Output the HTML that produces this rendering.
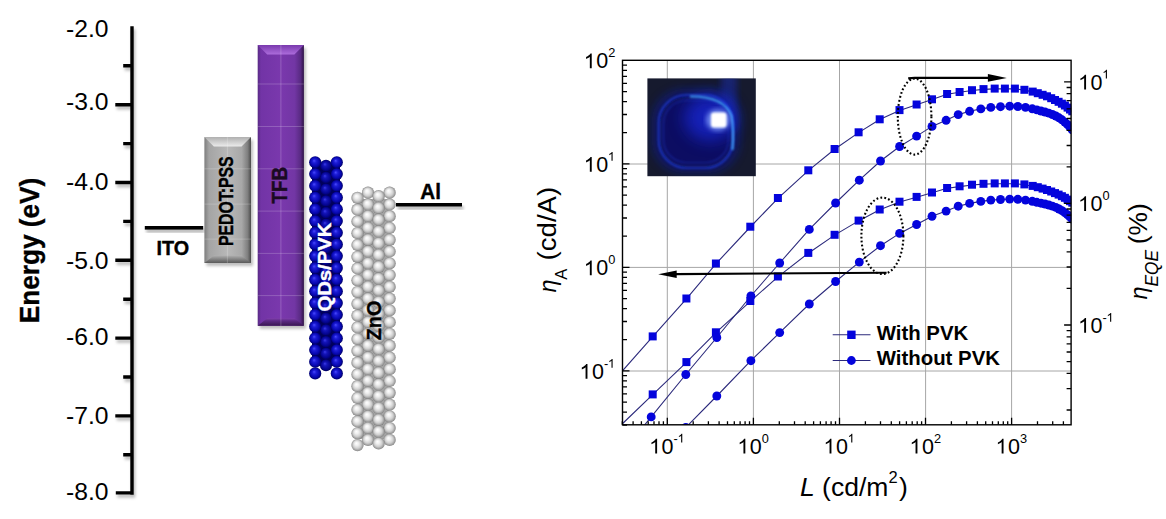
<!DOCTYPE html>
<html><head><meta charset="utf-8"><style>
html,body{margin:0;padding:0;background:#fff;width:1166px;height:519px;overflow:hidden}
</style></head><body>
<svg width="1166" height="519" viewBox="0 0 1166 519" style="display:block">
<defs>
<clipPath id="plot"><rect x="622.5" y="60.3" width="448.6" height="364.5"/></clipPath>
<radialGradient id="zno" cx="50%" cy="50%" r="52%" fx="40%" fy="34%">
  <stop offset="0" stop-color="#ffffff"/><stop offset="0.3" stop-color="#efefef"/><stop offset="0.62" stop-color="#cfcfcf"/><stop offset="0.88" stop-color="#9c9c9c"/><stop offset="1" stop-color="#747474"/>
</radialGradient>
<radialGradient id="qd" cx="50%" cy="50%" r="52%" fx="40%" fy="36%">
  <stop offset="0" stop-color="#4a4aff"/><stop offset="0.3" stop-color="#1c1cd6"/><stop offset="0.72" stop-color="#0606ae"/><stop offset="1" stop-color="#00005c"/>
</radialGradient>
<radialGradient id="qdm" cx="50%" cy="50%" r="52%" fx="40%" fy="36%">
  <stop offset="0" stop-color="#3a3ae8"/><stop offset="0.3" stop-color="#1414b8"/><stop offset="0.72" stop-color="#040490"/><stop offset="1" stop-color="#000050"/>
</radialGradient>
<linearGradient id="pedotH" x1="0" x2="1" y1="0" y2="0">
  <stop offset="0" stop-color="#7e7e7e"/><stop offset="0.1" stop-color="#a4a4a4"/><stop offset="0.5" stop-color="#b8b8b8"/><stop offset="0.8" stop-color="#a8a8a8"/><stop offset="0.93" stop-color="#7e7e7e"/><stop offset="1" stop-color="#4a4a4a"/>
</linearGradient>
<linearGradient id="tfbH" x1="0" x2="1" y1="0" y2="0">
  <stop offset="0" stop-color="#582a84"/><stop offset="0.07" stop-color="#7234a6"/><stop offset="0.5" stop-color="#7a38ad"/><stop offset="0.8" stop-color="#7236a4"/><stop offset="0.93" stop-color="#582a82"/><stop offset="1" stop-color="#2e1246"/>
</linearGradient>
<linearGradient id="tfbTop" x1="0" x2="0" y1="0" y2="1">
  <stop offset="0" stop-color="#7a3aae"/><stop offset="1" stop-color="#ad6ddc"/>
</linearGradient>
<linearGradient id="pedTop" x1="0" x2="0" y1="0" y2="1">
  <stop offset="0" stop-color="#b0b0b0"/><stop offset="1" stop-color="#ececec"/>
</linearGradient>
<linearGradient id="tfbBot" x1="0" x2="0" y1="0" y2="1">
  <stop offset="0" stop-color="#7e3eaa"/><stop offset="0.35" stop-color="#5c2a84"/><stop offset="1" stop-color="#381650"/>
</linearGradient>
<linearGradient id="pedBot" x1="0" x2="0" y1="0" y2="1">
  <stop offset="0" stop-color="#b0b0b0"/><stop offset="0.4" stop-color="#8c8c8c"/><stop offset="1" stop-color="#5a5a5a"/>
</linearGradient>
<radialGradient id="glow" cx="50%" cy="50%" r="50%">
  <stop offset="0" stop-color="#ffffff"/><stop offset="0.25" stop-color="#c8d8ff"/><stop offset="0.5" stop-color="#3050ff" stop-opacity="0.8"/><stop offset="1" stop-color="#0010a0" stop-opacity="0"/>
</radialGradient>
<radialGradient id="bigglow" cx="55%" cy="45%" r="55%">
  <stop offset="0" stop-color="#1a30e0"/><stop offset="0.6" stop-color="#0c18a8"/><stop offset="1" stop-color="#0c1040" stop-opacity="0"/>
</radialGradient>
<filter id="blur1"><feGaussianBlur stdDeviation="1.2"/></filter>
<filter id="blur2"><feGaussianBlur stdDeviation="2.5"/></filter>
<filter id="shadow" x="-20%" y="-20%" width="140%" height="140%"><feGaussianBlur stdDeviation="1.5"/></filter>
</defs>
<rect width="1166" height="519" fill="#ffffff"/>
<filter id="axsh" x="-50%" y="-10%" width="200%" height="120%"><feGaussianBlur stdDeviation="1.6"/></filter>
<g fill="none" stroke="#000" stroke-width="3.4">
<path d="M132,26.2 V494.7 M133.7,492.9 H115.8 M132,104.7 H115.3 M132,182.5 H115.3 M132,260.3 H115.3 M132,338.1 H115.3 M132,415.9 H115.3 M132,65.8 H123.2 M132,143.6 H123.2 M132,221.4 H123.2 M132,299.2 H123.2 M132,377.0 H123.2 M132,454.7 H123.2" stroke="#000" stroke-opacity="0.28" transform="translate(1.5,3)" filter="url(#axsh)"/>
<path d="M132,26.2 V494.7 M133.7,492.9 H115.8 M132,104.7 H115.3 M132,182.5 H115.3 M132,260.3 H115.3 M132,338.1 H115.3 M132,415.9 H115.3 M132,65.8 H123.2 M132,143.6 H123.2 M132,221.4 H123.2 M132,299.2 H123.2 M132,377.0 H123.2 M132,454.7 H123.2"/>
</g>
<text x="108.6" y="36.8" font-family="Liberation Sans, sans-serif" font-size="24.2" text-anchor="end" textLength="42.5" lengthAdjust="spacingAndGlyphs">-2.0</text>
<text x="108.6" y="110.3" font-family="Liberation Sans, sans-serif" font-size="24.2" text-anchor="end" textLength="42.5" lengthAdjust="spacingAndGlyphs">-3.0</text>
<text x="108.6" y="190.3" font-family="Liberation Sans, sans-serif" font-size="24.2" text-anchor="end" textLength="42.5" lengthAdjust="spacingAndGlyphs">-4.0</text>
<text x="108.6" y="269.1" font-family="Liberation Sans, sans-serif" font-size="24.2" text-anchor="end" textLength="42.5" lengthAdjust="spacingAndGlyphs">-5.0</text>
<text x="108.6" y="345.2" font-family="Liberation Sans, sans-serif" font-size="24.2" text-anchor="end" textLength="42.5" lengthAdjust="spacingAndGlyphs">-6.0</text>
<text x="108.6" y="424.0" font-family="Liberation Sans, sans-serif" font-size="24.2" text-anchor="end" textLength="42.5" lengthAdjust="spacingAndGlyphs">-7.0</text>
<text x="108.6" y="499.8" font-family="Liberation Sans, sans-serif" font-size="24.2" text-anchor="end" textLength="42.5" lengthAdjust="spacingAndGlyphs">-8.0</text>
<text transform="translate(38.6,323.3) rotate(-90)" font-family="Liberation Sans, sans-serif" font-weight="bold" font-size="26.8" stroke="#000" stroke-width="0.35" textLength="145.5" lengthAdjust="spacingAndGlyphs">Energy (eV)</text>
<rect x="146.3" y="229" width="58.4" height="3.6" fill="#000" opacity="0.3" filter="url(#axsh)"/>
<rect x="144.8" y="226" width="58.4" height="3.6" fill="#000"/>
<text x="156.6" y="255.4" font-family="Liberation Sans, sans-serif" font-weight="bold" font-size="20" stroke="#000" stroke-width="0.4" textLength="32.6" lengthAdjust="spacingAndGlyphs">ITO</text>
<rect x="397.5" y="206" width="66" height="3.5" fill="#000" opacity="0.3" filter="url(#axsh)"/>
<rect x="396" y="203" width="66" height="3.5" fill="#000"/>
<text x="420.3" y="198.5" font-family="Liberation Sans, sans-serif" font-weight="bold" font-size="21.5" stroke="#000" stroke-width="0.4" textLength="20.6" lengthAdjust="spacingAndGlyphs">Al</text>
<rect x="206.4" y="140.1" width="46.599999999999994" height="125.9" fill="#000" opacity="0.25" filter="url(#shadow)"/>
<rect x="204.4" y="137.1" width="46.599999999999994" height="125.9" fill="url(#pedotH)"/>
<path d="M204.4,137.1 H251.0 L241.5,146.6 H213.9 Z" fill="url(#pedTop)"/>
<path d="M204.4,263.0 H251.0 L241.5,255.4 H213.9 Z" fill="url(#pedBot)"/>
<rect x="259.7" y="48.1" width="46.19999999999999" height="280.7" fill="#000" opacity="0.25" filter="url(#shadow)"/>
<rect x="257.7" y="45.1" width="46.19999999999999" height="280.7" fill="url(#tfbH)"/>
<path d="M257.7,45.1 H303.9 L294.4,54.6 H267.2 Z" fill="url(#tfbTop)"/>
<path d="M257.7,325.8 H303.9 L294.4,318.2 H267.2 Z" fill="url(#tfbBot)"/>
<g stroke="#ffffff" stroke-opacity="0.2" stroke-width="1">
<path d="M227.4,137 V263 M280.9,45 V326"/>
<path d="M257.7,84.0 H303.9"/>
<path d="M257.7,126.5 H303.9"/>
<path d="M257.7,168.8 H303.9"/>
<path d="M257.7,211.1 H303.9"/>
<path d="M257.7,253.4 H303.9"/>
<path d="M257.7,295.6 H303.9"/>
<path d="M204.4,168.8 H251"/>
<path d="M204.4,204.1 H251"/>
<path d="M204.4,239.1 H251"/>
</g>
<text transform="translate(232.7,246.0) rotate(-90)" font-family="Liberation Sans, sans-serif" font-weight="bold" font-size="19.3" stroke="#000" stroke-width="0.4" textLength="89.6" lengthAdjust="spacingAndGlyphs">PEDOT:PSS</text>
<text transform="translate(286.8,203.4) rotate(-90)" font-family="Liberation Sans, sans-serif" font-weight="bold" font-size="21.6" fill="#1a0a22" stroke="#1a0a22" stroke-width="0.4" textLength="36.6" lengthAdjust="spacingAndGlyphs">TFB</text>
<g>
<rect x="312" y="163" width="28" height="203" fill="#00005c"/>
<circle cx="326.0" cy="165.8" r="6.1" fill="url(#qdm)"/>
<circle cx="326.0" cy="177.5" r="6.1" fill="url(#qdm)"/>
<circle cx="326.0" cy="189.3" r="6.1" fill="url(#qdm)"/>
<circle cx="326.0" cy="201.0" r="6.1" fill="url(#qdm)"/>
<circle cx="326.0" cy="212.7" r="6.1" fill="url(#qdm)"/>
<circle cx="326.0" cy="224.5" r="6.1" fill="url(#qdm)"/>
<circle cx="326.0" cy="236.2" r="6.1" fill="url(#qdm)"/>
<circle cx="326.0" cy="247.9" r="6.1" fill="url(#qdm)"/>
<circle cx="326.0" cy="259.6" r="6.1" fill="url(#qdm)"/>
<circle cx="326.0" cy="271.4" r="6.1" fill="url(#qdm)"/>
<circle cx="326.0" cy="283.1" r="6.1" fill="url(#qdm)"/>
<circle cx="326.0" cy="294.8" r="6.1" fill="url(#qdm)"/>
<circle cx="326.0" cy="306.6" r="6.1" fill="url(#qdm)"/>
<circle cx="326.0" cy="318.3" r="6.1" fill="url(#qdm)"/>
<circle cx="326.0" cy="330.0" r="6.1" fill="url(#qdm)"/>
<circle cx="326.0" cy="341.8" r="6.1" fill="url(#qdm)"/>
<circle cx="326.0" cy="353.5" r="6.1" fill="url(#qdm)"/>
<circle cx="326.0" cy="365.2" r="6.1" fill="url(#qdm)"/>
<circle cx="315.2" cy="162.3" r="6.1" fill="url(#qd)"/>
<circle cx="336.8" cy="162.3" r="6.1" fill="url(#qd)"/>
<circle cx="315.2" cy="174.0" r="6.1" fill="url(#qd)"/>
<circle cx="336.8" cy="174.0" r="6.1" fill="url(#qd)"/>
<circle cx="315.2" cy="185.8" r="6.1" fill="url(#qd)"/>
<circle cx="336.8" cy="185.8" r="6.1" fill="url(#qd)"/>
<circle cx="315.2" cy="197.5" r="6.1" fill="url(#qd)"/>
<circle cx="336.8" cy="197.5" r="6.1" fill="url(#qd)"/>
<circle cx="315.2" cy="209.2" r="6.1" fill="url(#qd)"/>
<circle cx="336.8" cy="209.2" r="6.1" fill="url(#qd)"/>
<circle cx="315.2" cy="221.0" r="6.1" fill="url(#qd)"/>
<circle cx="336.8" cy="221.0" r="6.1" fill="url(#qd)"/>
<circle cx="315.2" cy="232.7" r="6.1" fill="url(#qd)"/>
<circle cx="336.8" cy="232.7" r="6.1" fill="url(#qd)"/>
<circle cx="315.2" cy="244.4" r="6.1" fill="url(#qd)"/>
<circle cx="336.8" cy="244.4" r="6.1" fill="url(#qd)"/>
<circle cx="315.2" cy="256.1" r="6.1" fill="url(#qd)"/>
<circle cx="336.8" cy="256.1" r="6.1" fill="url(#qd)"/>
<circle cx="315.2" cy="267.9" r="6.1" fill="url(#qd)"/>
<circle cx="336.8" cy="267.9" r="6.1" fill="url(#qd)"/>
<circle cx="315.2" cy="279.6" r="6.1" fill="url(#qd)"/>
<circle cx="336.8" cy="279.6" r="6.1" fill="url(#qd)"/>
<circle cx="315.2" cy="291.3" r="6.1" fill="url(#qd)"/>
<circle cx="336.8" cy="291.3" r="6.1" fill="url(#qd)"/>
<circle cx="315.2" cy="303.1" r="6.1" fill="url(#qd)"/>
<circle cx="336.8" cy="303.1" r="6.1" fill="url(#qd)"/>
<circle cx="315.2" cy="314.8" r="6.1" fill="url(#qd)"/>
<circle cx="336.8" cy="314.8" r="6.1" fill="url(#qd)"/>
<circle cx="315.2" cy="326.5" r="6.1" fill="url(#qd)"/>
<circle cx="336.8" cy="326.5" r="6.1" fill="url(#qd)"/>
<circle cx="315.2" cy="338.2" r="6.1" fill="url(#qd)"/>
<circle cx="336.8" cy="338.2" r="6.1" fill="url(#qd)"/>
<circle cx="315.2" cy="350.0" r="6.1" fill="url(#qd)"/>
<circle cx="336.8" cy="350.0" r="6.1" fill="url(#qd)"/>
<circle cx="315.2" cy="361.7" r="6.1" fill="url(#qd)"/>
<circle cx="336.8" cy="361.7" r="6.1" fill="url(#qd)"/>
<circle cx="315.2" cy="373.4" r="6.1" fill="url(#qd)"/>
<circle cx="336.8" cy="373.4" r="6.1" fill="url(#qd)"/>
</g>
<text transform="translate(331.4,311.6) rotate(-90)" font-family="Liberation Sans, sans-serif" font-weight="bold" font-size="19.2" fill="#fff" stroke="#fff" stroke-width="0.4" textLength="89" lengthAdjust="spacingAndGlyphs">QDs/PVK</text>
<g>
<rect x="358" y="199" width="31" height="240" fill="#a4a4a4"/>
<circle cx="368.0" cy="192.7" r="6.15" fill="url(#zno)"/>
<circle cx="368.0" cy="204.5" r="6.15" fill="url(#zno)"/>
<circle cx="368.0" cy="216.2" r="6.15" fill="url(#zno)"/>
<circle cx="368.0" cy="228.0" r="6.15" fill="url(#zno)"/>
<circle cx="368.0" cy="239.8" r="6.15" fill="url(#zno)"/>
<circle cx="368.0" cy="251.5" r="6.15" fill="url(#zno)"/>
<circle cx="368.0" cy="263.3" r="6.15" fill="url(#zno)"/>
<circle cx="368.0" cy="275.1" r="6.15" fill="url(#zno)"/>
<circle cx="368.0" cy="286.9" r="6.15" fill="url(#zno)"/>
<circle cx="368.0" cy="298.6" r="6.15" fill="url(#zno)"/>
<circle cx="368.0" cy="310.4" r="6.15" fill="url(#zno)"/>
<circle cx="368.0" cy="322.2" r="6.15" fill="url(#zno)"/>
<circle cx="368.0" cy="333.9" r="6.15" fill="url(#zno)"/>
<circle cx="368.0" cy="345.7" r="6.15" fill="url(#zno)"/>
<circle cx="368.0" cy="357.5" r="6.15" fill="url(#zno)"/>
<circle cx="368.0" cy="369.2" r="6.15" fill="url(#zno)"/>
<circle cx="368.0" cy="381.0" r="6.15" fill="url(#zno)"/>
<circle cx="368.0" cy="392.8" r="6.15" fill="url(#zno)"/>
<circle cx="368.0" cy="404.6" r="6.15" fill="url(#zno)"/>
<circle cx="368.0" cy="416.3" r="6.15" fill="url(#zno)"/>
<circle cx="368.0" cy="428.1" r="6.15" fill="url(#zno)"/>
<circle cx="368.0" cy="439.9" r="6.15" fill="url(#zno)"/>
<circle cx="389.6" cy="192.7" r="6.15" fill="url(#zno)"/>
<circle cx="389.6" cy="204.5" r="6.15" fill="url(#zno)"/>
<circle cx="389.6" cy="216.2" r="6.15" fill="url(#zno)"/>
<circle cx="389.6" cy="228.0" r="6.15" fill="url(#zno)"/>
<circle cx="389.6" cy="239.8" r="6.15" fill="url(#zno)"/>
<circle cx="389.6" cy="251.5" r="6.15" fill="url(#zno)"/>
<circle cx="389.6" cy="263.3" r="6.15" fill="url(#zno)"/>
<circle cx="389.6" cy="275.1" r="6.15" fill="url(#zno)"/>
<circle cx="389.6" cy="286.9" r="6.15" fill="url(#zno)"/>
<circle cx="389.6" cy="298.6" r="6.15" fill="url(#zno)"/>
<circle cx="389.6" cy="310.4" r="6.15" fill="url(#zno)"/>
<circle cx="389.6" cy="322.2" r="6.15" fill="url(#zno)"/>
<circle cx="389.6" cy="333.9" r="6.15" fill="url(#zno)"/>
<circle cx="389.6" cy="345.7" r="6.15" fill="url(#zno)"/>
<circle cx="389.6" cy="357.5" r="6.15" fill="url(#zno)"/>
<circle cx="389.6" cy="369.2" r="6.15" fill="url(#zno)"/>
<circle cx="389.6" cy="381.0" r="6.15" fill="url(#zno)"/>
<circle cx="389.6" cy="392.8" r="6.15" fill="url(#zno)"/>
<circle cx="389.6" cy="404.6" r="6.15" fill="url(#zno)"/>
<circle cx="389.6" cy="416.3" r="6.15" fill="url(#zno)"/>
<circle cx="389.6" cy="428.1" r="6.15" fill="url(#zno)"/>
<circle cx="389.6" cy="439.9" r="6.15" fill="url(#zno)"/>
<circle cx="357.5" cy="197.9" r="6.15" fill="url(#zno)"/>
<circle cx="357.5" cy="209.7" r="6.15" fill="url(#zno)"/>
<circle cx="357.5" cy="221.4" r="6.15" fill="url(#zno)"/>
<circle cx="357.5" cy="233.2" r="6.15" fill="url(#zno)"/>
<circle cx="357.5" cy="245.0" r="6.15" fill="url(#zno)"/>
<circle cx="357.5" cy="256.8" r="6.15" fill="url(#zno)"/>
<circle cx="357.5" cy="268.5" r="6.15" fill="url(#zno)"/>
<circle cx="357.5" cy="280.3" r="6.15" fill="url(#zno)"/>
<circle cx="357.5" cy="292.1" r="6.15" fill="url(#zno)"/>
<circle cx="357.5" cy="303.8" r="6.15" fill="url(#zno)"/>
<circle cx="357.5" cy="315.6" r="6.15" fill="url(#zno)"/>
<circle cx="357.5" cy="327.4" r="6.15" fill="url(#zno)"/>
<circle cx="357.5" cy="339.1" r="6.15" fill="url(#zno)"/>
<circle cx="357.5" cy="350.9" r="6.15" fill="url(#zno)"/>
<circle cx="357.5" cy="362.7" r="6.15" fill="url(#zno)"/>
<circle cx="357.5" cy="374.4" r="6.15" fill="url(#zno)"/>
<circle cx="357.5" cy="386.2" r="6.15" fill="url(#zno)"/>
<circle cx="357.5" cy="398.0" r="6.15" fill="url(#zno)"/>
<circle cx="357.5" cy="409.8" r="6.15" fill="url(#zno)"/>
<circle cx="357.5" cy="421.5" r="6.15" fill="url(#zno)"/>
<circle cx="357.5" cy="433.3" r="6.15" fill="url(#zno)"/>
<circle cx="357.5" cy="445.1" r="6.15" fill="url(#zno)"/>
<circle cx="378.6" cy="196.2" r="6.15" fill="url(#zno)"/>
<circle cx="378.6" cy="208.0" r="6.15" fill="url(#zno)"/>
<circle cx="378.6" cy="219.7" r="6.15" fill="url(#zno)"/>
<circle cx="378.6" cy="231.5" r="6.15" fill="url(#zno)"/>
<circle cx="378.6" cy="243.3" r="6.15" fill="url(#zno)"/>
<circle cx="378.6" cy="255.0" r="6.15" fill="url(#zno)"/>
<circle cx="378.6" cy="266.8" r="6.15" fill="url(#zno)"/>
<circle cx="378.6" cy="278.6" r="6.15" fill="url(#zno)"/>
<circle cx="378.6" cy="290.4" r="6.15" fill="url(#zno)"/>
<circle cx="378.6" cy="302.1" r="6.15" fill="url(#zno)"/>
<circle cx="378.6" cy="313.9" r="6.15" fill="url(#zno)"/>
<circle cx="378.6" cy="325.7" r="6.15" fill="url(#zno)"/>
<circle cx="378.6" cy="337.4" r="6.15" fill="url(#zno)"/>
<circle cx="378.6" cy="349.2" r="6.15" fill="url(#zno)"/>
<circle cx="378.6" cy="361.0" r="6.15" fill="url(#zno)"/>
<circle cx="378.6" cy="372.8" r="6.15" fill="url(#zno)"/>
<circle cx="378.6" cy="384.5" r="6.15" fill="url(#zno)"/>
<circle cx="378.6" cy="396.3" r="6.15" fill="url(#zno)"/>
<circle cx="378.6" cy="408.1" r="6.15" fill="url(#zno)"/>
<circle cx="378.6" cy="419.8" r="6.15" fill="url(#zno)"/>
<circle cx="378.6" cy="431.6" r="6.15" fill="url(#zno)"/>
<circle cx="378.6" cy="443.4" r="6.15" fill="url(#zno)"/>
</g>
<text transform="translate(381.2,340.3) rotate(-90)" font-family="Liberation Sans, sans-serif" font-weight="bold" font-size="21" fill="#000" stroke="#000" stroke-width="0.4" textLength="39.6" lengthAdjust="spacingAndGlyphs">ZnO</text>
<g stroke="#a6a6a6" stroke-width="1" fill="none">
<path d="M667.3,60.3 V424.8"/>
<path d="M753.4,60.3 V424.8"/>
<path d="M839.5,60.3 V424.8"/>
<path d="M925.6,60.3 V424.8"/>
<path d="M1011.6,60.3 V424.8"/>
<path d="M622.5,164.0 H1071.1"/>
<path d="M622.5,267.4 H1071.1"/>
<path d="M622.5,371.0 H1071.1"/>
</g>
<g>
<rect x="647.4" y="78.4" width="108.4" height="97.8" fill="#161a2e"/>
<clipPath id="ph"><rect x="647.4" y="78.4" width="108.4" height="97.8"/></clipPath>
<filter id="pb3" x="-30%" y="-30%" width="160%" height="160%"><feGaussianBlur stdDeviation="3"/></filter>
<filter id="pb5" x="-30%" y="-30%" width="160%" height="160%"><feGaussianBlur stdDeviation="5"/></filter>
<filter id="pb8" x="-50%" y="-50%" width="200%" height="200%"><feGaussianBlur stdDeviation="8"/></filter>
<filter id="pb08" x="-10%" y="-10%" width="120%" height="120%"><feGaussianBlur stdDeviation="0.8"/></filter>
<g clip-path="url(#ph)">
<rect x="721" y="70" width="16" height="60" fill="#1a30c0" opacity="0.45" filter="url(#pb3)"/>
<rect x="652" y="89" width="88" height="84" rx="32" ry="32" fill="#0c1ab0" opacity="0.45" filter="url(#pb5)"/>
<rect x="660" y="97" width="72" height="70" rx="26" ry="26" fill="#080b62" opacity="0.95" filter="url(#pb3)"/>
<ellipse cx="710" cy="118" rx="26" ry="23" fill="#1a30ff" opacity="0.55" filter="url(#pb8)"/>
<rect x="658.7" y="95" width="74.3" height="73" rx="28" ry="28" fill="none" stroke="#2c50ff" stroke-width="1.7" opacity="0.65" filter="url(#pb08)"/>
<rect x="663.5" y="100.5" width="65" height="62" rx="23" ry="23" fill="none" stroke="#2444f0" stroke-width="1.2" opacity="0.35" filter="url(#pb08)"/>
<path d="M690,96.5 Q724,96 731.5,116 Q734,130 732.5,150" fill="none" stroke="#46b0ff" stroke-width="2.2" opacity="0.85" filter="url(#pb08)"/>
<ellipse cx="718" cy="120" rx="12" ry="11" fill="#8aa8ff" opacity="0.75" filter="url(#blur2)"/>
<rect x="711" y="112.5" width="15.5" height="15" rx="3" fill="#ffffff" filter="url(#blur1)"/>
</g></g>
<g clip-path="url(#plot)">
<polyline points="600.0,445.2 652.7,394.7 686.4,362.4 715.9,332.6 750.3,301.3 777.9,276.8 808.3,253.2 834.6,235.1 858.6,220.9 879.7,209.8 899.5,202.0 916.6,197.2 932.0,192.8 947.1,188.3 959.6,186.6 972.0,185.0 983.5,184.1 994.7,183.7 1004.9,183.7 1014.9,183.7 1024.4,184.7 1032.7,186.2 1037.8,187.5 1042.6,188.9 1047.0,190.3 1051.2,191.8 1055.0,193.4 1058.6,194.9 1061.9,196.5 1064.9,198.1 1067.6,199.9 1070.0,201.5 1072.3,203.0" fill="none" stroke="#2c2a7c" stroke-width="1.1"/>
<polyline points="600.0,517.0 651.2,463.6 685.8,427.5 716.8,396.0 750.9,360.7 779.7,332.6 809.3,304.0 835.6,281.5 859.3,262.1 880.5,245.7 899.6,233.4 916.6,224.5 932.0,216.3 946.1,211.1 958.2,206.2 969.6,203.4 980.8,201.4 990.8,200.1 1000.5,199.5 1009.7,199.1 1017.8,199.3 1025.5,200.1 1032.3,201.3 1036.8,202.3 1041.0,203.2 1045.0,204.0 1048.8,205.0 1052.4,206.1 1055.8,207.4 1059.0,209.0 1062.0,210.7 1064.8,212.6 1067.4,214.6 1069.8,216.8 1072.2,219.2" fill="none" stroke="#2c2a7c" stroke-width="1.1"/>
<polyline points="600.0,396.1 652.7,336.7 686.4,298.8 715.9,263.8 750.3,227.0 777.9,198.3 808.3,170.6 834.6,149.3 858.6,132.6 879.7,119.6 899.5,110.4 916.6,104.8 932.0,99.6 947.1,94.3 959.6,92.3 972.0,90.5 983.5,89.4 994.7,88.9 1004.9,88.9 1014.9,88.9 1024.4,90.1 1032.7,91.9 1037.8,93.5 1042.6,95.1 1047.0,96.6 1051.2,98.5 1055.0,100.3 1058.6,102.1 1061.9,104.0 1064.9,105.8 1067.6,107.9 1070.0,109.8 1072.3,111.6" fill="none" stroke="#2c2a7c" stroke-width="1.1"/>
<polyline points="600.0,479.6 651.2,416.9 685.8,374.5 716.8,337.5 750.9,296.0 779.7,263.0 809.3,229.4 835.6,203.0 859.3,180.2 880.5,161.0 899.6,146.5 916.6,136.1 932.0,126.4 946.1,120.3 958.2,114.6 969.6,111.3 980.8,108.9 990.8,107.4 1000.5,106.7 1009.7,106.2 1017.8,106.5 1025.5,107.4 1032.3,108.8 1036.8,109.9 1041.0,111.0 1045.0,112.0 1048.8,113.1 1052.4,114.5 1055.8,116.0 1059.0,117.8 1062.0,119.8 1064.8,122.1 1067.4,124.4 1069.8,127.0 1072.2,129.8" fill="none" stroke="#2c2a7c" stroke-width="1.1"/>
<rect x="648.7" y="390.4" width="8.0" height="8.0" fill="#0404dc"/>
<rect x="682.4" y="358.1" width="8.0" height="8.0" fill="#0404dc"/>
<rect x="711.9" y="328.3" width="8.0" height="8.0" fill="#0404dc"/>
<rect x="746.3" y="297.0" width="8.0" height="8.0" fill="#0404dc"/>
<rect x="773.9" y="272.5" width="8.0" height="8.0" fill="#0404dc"/>
<rect x="804.3" y="248.9" width="8.0" height="8.0" fill="#0404dc"/>
<rect x="830.6" y="230.8" width="8.0" height="8.0" fill="#0404dc"/>
<rect x="854.6" y="216.6" width="8.0" height="8.0" fill="#0404dc"/>
<rect x="875.7" y="205.5" width="8.0" height="8.0" fill="#0404dc"/>
<rect x="895.5" y="197.7" width="8.0" height="8.0" fill="#0404dc"/>
<rect x="912.6" y="192.9" width="8.0" height="8.0" fill="#0404dc"/>
<rect x="928.0" y="188.5" width="8.0" height="8.0" fill="#0404dc"/>
<rect x="943.1" y="184.0" width="8.0" height="8.0" fill="#0404dc"/>
<rect x="955.6" y="182.3" width="8.0" height="8.0" fill="#0404dc"/>
<rect x="968.0" y="180.7" width="8.0" height="8.0" fill="#0404dc"/>
<rect x="979.5" y="179.8" width="8.0" height="8.0" fill="#0404dc"/>
<rect x="990.7" y="179.4" width="8.0" height="8.0" fill="#0404dc"/>
<rect x="1000.9" y="179.4" width="8.0" height="8.0" fill="#0404dc"/>
<rect x="1010.9" y="179.4" width="8.0" height="8.0" fill="#0404dc"/>
<rect x="1020.4" y="180.4" width="8.0" height="8.0" fill="#0404dc"/>
<rect x="1028.7" y="181.9" width="8.0" height="8.0" fill="#0404dc"/>
<rect x="1033.8" y="183.2" width="8.0" height="8.0" fill="#0404dc"/>
<rect x="1038.6" y="184.6" width="8.0" height="8.0" fill="#0404dc"/>
<rect x="1043.0" y="186.0" width="8.0" height="8.0" fill="#0404dc"/>
<rect x="1047.2" y="187.5" width="8.0" height="8.0" fill="#0404dc"/>
<rect x="1051.0" y="189.1" width="8.0" height="8.0" fill="#0404dc"/>
<rect x="1054.6" y="190.6" width="8.0" height="8.0" fill="#0404dc"/>
<rect x="1057.9" y="192.2" width="8.0" height="8.0" fill="#0404dc"/>
<rect x="1060.9" y="193.8" width="8.0" height="8.0" fill="#0404dc"/>
<rect x="1063.6" y="195.6" width="8.0" height="8.0" fill="#0404dc"/>
<rect x="1066.0" y="197.2" width="8.0" height="8.0" fill="#0404dc"/>
<rect x="1068.3" y="198.7" width="8.0" height="8.0" fill="#0404dc"/>
<rect x="648.7" y="332.4" width="8.0" height="8.0" fill="#0404dc"/>
<rect x="682.4" y="294.5" width="8.0" height="8.0" fill="#0404dc"/>
<rect x="711.9" y="259.5" width="8.0" height="8.0" fill="#0404dc"/>
<rect x="746.3" y="222.7" width="8.0" height="8.0" fill="#0404dc"/>
<rect x="773.9" y="194.0" width="8.0" height="8.0" fill="#0404dc"/>
<rect x="804.3" y="166.3" width="8.0" height="8.0" fill="#0404dc"/>
<rect x="830.6" y="145.0" width="8.0" height="8.0" fill="#0404dc"/>
<rect x="854.6" y="128.3" width="8.0" height="8.0" fill="#0404dc"/>
<rect x="875.7" y="115.3" width="8.0" height="8.0" fill="#0404dc"/>
<rect x="895.5" y="106.1" width="8.0" height="8.0" fill="#0404dc"/>
<rect x="912.6" y="100.5" width="8.0" height="8.0" fill="#0404dc"/>
<rect x="928.0" y="95.3" width="8.0" height="8.0" fill="#0404dc"/>
<rect x="943.1" y="90.0" width="8.0" height="8.0" fill="#0404dc"/>
<rect x="955.6" y="88.0" width="8.0" height="8.0" fill="#0404dc"/>
<rect x="968.0" y="86.2" width="8.0" height="8.0" fill="#0404dc"/>
<rect x="979.5" y="85.1" width="8.0" height="8.0" fill="#0404dc"/>
<rect x="990.7" y="84.6" width="8.0" height="8.0" fill="#0404dc"/>
<rect x="1000.9" y="84.6" width="8.0" height="8.0" fill="#0404dc"/>
<rect x="1010.9" y="84.6" width="8.0" height="8.0" fill="#0404dc"/>
<rect x="1020.4" y="85.8" width="8.0" height="8.0" fill="#0404dc"/>
<rect x="1028.7" y="87.6" width="8.0" height="8.0" fill="#0404dc"/>
<rect x="1033.8" y="89.2" width="8.0" height="8.0" fill="#0404dc"/>
<rect x="1038.6" y="90.8" width="8.0" height="8.0" fill="#0404dc"/>
<rect x="1043.0" y="92.3" width="8.0" height="8.0" fill="#0404dc"/>
<rect x="1047.2" y="94.2" width="8.0" height="8.0" fill="#0404dc"/>
<rect x="1051.0" y="96.0" width="8.0" height="8.0" fill="#0404dc"/>
<rect x="1054.6" y="97.8" width="8.0" height="8.0" fill="#0404dc"/>
<rect x="1057.9" y="99.7" width="8.0" height="8.0" fill="#0404dc"/>
<rect x="1060.9" y="101.5" width="8.0" height="8.0" fill="#0404dc"/>
<rect x="1063.6" y="103.6" width="8.0" height="8.0" fill="#0404dc"/>
<rect x="1066.0" y="105.5" width="8.0" height="8.0" fill="#0404dc"/>
<rect x="1068.3" y="107.3" width="8.0" height="8.0" fill="#0404dc"/>
<circle cx="651.2" cy="463.6" r="4.45" fill="#0404dc"/>
<circle cx="685.8" cy="427.5" r="4.45" fill="#0404dc"/>
<circle cx="716.8" cy="396.0" r="4.45" fill="#0404dc"/>
<circle cx="750.9" cy="360.7" r="4.45" fill="#0404dc"/>
<circle cx="779.7" cy="332.6" r="4.45" fill="#0404dc"/>
<circle cx="809.3" cy="304.0" r="4.45" fill="#0404dc"/>
<circle cx="835.6" cy="281.5" r="4.45" fill="#0404dc"/>
<circle cx="859.3" cy="262.1" r="4.45" fill="#0404dc"/>
<circle cx="880.5" cy="245.7" r="4.45" fill="#0404dc"/>
<circle cx="899.6" cy="233.4" r="4.45" fill="#0404dc"/>
<circle cx="916.6" cy="224.5" r="4.45" fill="#0404dc"/>
<circle cx="932.0" cy="216.3" r="4.45" fill="#0404dc"/>
<circle cx="946.1" cy="211.1" r="4.45" fill="#0404dc"/>
<circle cx="958.2" cy="206.2" r="4.45" fill="#0404dc"/>
<circle cx="969.6" cy="203.4" r="4.45" fill="#0404dc"/>
<circle cx="980.8" cy="201.4" r="4.45" fill="#0404dc"/>
<circle cx="990.8" cy="200.1" r="4.45" fill="#0404dc"/>
<circle cx="1000.5" cy="199.5" r="4.45" fill="#0404dc"/>
<circle cx="1009.7" cy="199.1" r="4.45" fill="#0404dc"/>
<circle cx="1017.8" cy="199.3" r="4.45" fill="#0404dc"/>
<circle cx="1025.5" cy="200.1" r="4.45" fill="#0404dc"/>
<circle cx="1032.3" cy="201.3" r="4.45" fill="#0404dc"/>
<circle cx="1036.8" cy="202.3" r="4.45" fill="#0404dc"/>
<circle cx="1041.0" cy="203.2" r="4.45" fill="#0404dc"/>
<circle cx="1045.0" cy="204.0" r="4.45" fill="#0404dc"/>
<circle cx="1048.8" cy="205.0" r="4.45" fill="#0404dc"/>
<circle cx="1052.4" cy="206.1" r="4.45" fill="#0404dc"/>
<circle cx="1055.8" cy="207.4" r="4.45" fill="#0404dc"/>
<circle cx="1059.0" cy="209.0" r="4.45" fill="#0404dc"/>
<circle cx="1062.0" cy="210.7" r="4.45" fill="#0404dc"/>
<circle cx="1064.8" cy="212.6" r="4.45" fill="#0404dc"/>
<circle cx="1067.4" cy="214.6" r="4.45" fill="#0404dc"/>
<circle cx="1069.8" cy="216.8" r="4.45" fill="#0404dc"/>
<circle cx="1072.2" cy="219.2" r="4.45" fill="#0404dc"/>
<circle cx="651.2" cy="416.9" r="4.45" fill="#0404dc"/>
<circle cx="685.8" cy="374.5" r="4.45" fill="#0404dc"/>
<circle cx="716.8" cy="337.5" r="4.45" fill="#0404dc"/>
<circle cx="750.9" cy="296.0" r="4.45" fill="#0404dc"/>
<circle cx="779.7" cy="263.0" r="4.45" fill="#0404dc"/>
<circle cx="809.3" cy="229.4" r="4.45" fill="#0404dc"/>
<circle cx="835.6" cy="203.0" r="4.45" fill="#0404dc"/>
<circle cx="859.3" cy="180.2" r="4.45" fill="#0404dc"/>
<circle cx="880.5" cy="161.0" r="4.45" fill="#0404dc"/>
<circle cx="899.6" cy="146.5" r="4.45" fill="#0404dc"/>
<circle cx="916.6" cy="136.1" r="4.45" fill="#0404dc"/>
<circle cx="932.0" cy="126.4" r="4.45" fill="#0404dc"/>
<circle cx="946.1" cy="120.3" r="4.45" fill="#0404dc"/>
<circle cx="958.2" cy="114.6" r="4.45" fill="#0404dc"/>
<circle cx="969.6" cy="111.3" r="4.45" fill="#0404dc"/>
<circle cx="980.8" cy="108.9" r="4.45" fill="#0404dc"/>
<circle cx="990.8" cy="107.4" r="4.45" fill="#0404dc"/>
<circle cx="1000.5" cy="106.7" r="4.45" fill="#0404dc"/>
<circle cx="1009.7" cy="106.2" r="4.45" fill="#0404dc"/>
<circle cx="1017.8" cy="106.5" r="4.45" fill="#0404dc"/>
<circle cx="1025.5" cy="107.4" r="4.45" fill="#0404dc"/>
<circle cx="1032.3" cy="108.8" r="4.45" fill="#0404dc"/>
<circle cx="1036.8" cy="109.9" r="4.45" fill="#0404dc"/>
<circle cx="1041.0" cy="111.0" r="4.45" fill="#0404dc"/>
<circle cx="1045.0" cy="112.0" r="4.45" fill="#0404dc"/>
<circle cx="1048.8" cy="113.1" r="4.45" fill="#0404dc"/>
<circle cx="1052.4" cy="114.5" r="4.45" fill="#0404dc"/>
<circle cx="1055.8" cy="116.0" r="4.45" fill="#0404dc"/>
<circle cx="1059.0" cy="117.8" r="4.45" fill="#0404dc"/>
<circle cx="1062.0" cy="119.8" r="4.45" fill="#0404dc"/>
<circle cx="1064.8" cy="122.1" r="4.45" fill="#0404dc"/>
<circle cx="1067.4" cy="124.4" r="4.45" fill="#0404dc"/>
<circle cx="1069.8" cy="127.0" r="4.45" fill="#0404dc"/>
<circle cx="1072.2" cy="129.8" r="4.45" fill="#0404dc"/>
</g>
<rect x="622.5" y="60.3" width="448.6" height="364.5" fill="none" stroke="#000" stroke-width="1.4"/>
<path d="M622.5,425.0 h4.5 M622.5,412.1 h4.5 M622.5,402.1 h4.5 M622.5,393.9 h4.5 M622.5,386.9 h4.5 M622.5,380.9 h4.5 M622.5,375.6 h4.5 M622.5,370.9 h7 M622.5,339.7 h4.5 M622.5,321.5 h4.5 M622.5,308.6 h4.5 M622.5,298.6 h4.5 M622.5,290.4 h4.5 M622.5,283.4 h4.5 M622.5,277.4 h4.5 M622.5,272.1 h4.5 M622.5,267.4 h7 M622.5,236.2 h4.5 M622.5,218.0 h4.5 M622.5,205.1 h4.5 M622.5,195.1 h4.5 M622.5,186.9 h4.5 M622.5,179.9 h4.5 M622.5,173.9 h4.5 M622.5,168.6 h4.5 M622.5,163.9 h7 M622.5,132.7 h4.5 M622.5,114.5 h4.5 M622.5,101.6 h4.5 M622.5,91.6 h4.5 M622.5,83.4 h4.5 M622.5,76.4 h4.5 M622.5,70.4 h4.5 M622.5,65.1 h4.5 M622.3,424.8 v-3.6 M633.1,424.8 v-3.6 M641.4,424.8 v-3.6 M648.2,424.8 v-3.6 M654.0,424.8 v-3.6 M659.0,424.8 v-3.6 M663.4,424.8 v-3.6 M667.3,424.8 v-7 M693.2,424.8 v-3.6 M708.4,424.8 v-3.6 M719.1,424.8 v-3.6 M727.5,424.8 v-3.6 M734.3,424.8 v-3.6 M740.1,424.8 v-3.6 M745.1,424.8 v-3.6 M749.5,424.8 v-3.6 M753.4,424.8 v-7 M779.3,424.8 v-3.6 M794.5,424.8 v-3.6 M805.2,424.8 v-3.6 M813.6,424.8 v-3.6 M820.4,424.8 v-3.6 M826.1,424.8 v-3.6 M831.1,424.8 v-3.6 M835.5,424.8 v-3.6 M839.5,424.8 v-7 M865.4,424.8 v-3.6 M880.5,424.8 v-3.6 M891.3,424.8 v-3.6 M899.6,424.8 v-3.6 M906.4,424.8 v-3.6 M912.2,424.8 v-3.6 M917.2,424.8 v-3.6 M921.6,424.8 v-3.6 M925.5,424.8 v-7 M951.4,424.8 v-3.6 M966.6,424.8 v-3.6 M977.4,424.8 v-3.6 M985.7,424.8 v-3.6 M992.5,424.8 v-3.6 M998.3,424.8 v-3.6 M1003.3,424.8 v-3.6 M1007.7,424.8 v-3.6 M1011.6,424.8 v-7 M1037.5,424.8 v-3.6 M1052.7,424.8 v-3.6 M1063.4,424.8 v-3.6 M1071.1,410.0 h-4.5 M1071.1,388.6 h-4.5 M1071.1,373.4 h-4.5 M1071.1,361.6 h-4.5 M1071.1,352.0 h-4.5 M1071.1,343.8 h-4.5 M1071.1,336.8 h-4.5 M1071.1,330.6 h-4.5 M1071.1,325.0 h-7 M1071.1,288.4 h-4.5 M1071.1,267.0 h-4.5 M1071.1,251.8 h-4.5 M1071.1,240.0 h-4.5 M1071.1,230.4 h-4.5 M1071.1,222.3 h-4.5 M1071.1,215.2 h-4.5 M1071.1,209.0 h-4.5 M1071.1,203.4 h-7 M1071.1,166.9 h-4.5 M1071.1,145.5 h-4.5 M1071.1,130.3 h-4.5 M1071.1,118.5 h-4.5 M1071.1,108.9 h-4.5 M1071.1,100.7 h-4.5 M1071.1,93.7 h-4.5 M1071.1,87.5 h-4.5 M1071.1,81.9 h-7" stroke="#000" stroke-width="1.3" fill="none"/>
<path d="M710,0 L530,0 L530,1100 C487,1059 430,1017 360,976 C290,935 227,904 172,883 L172,1057 C272,1104 360,1161 435,1227 C510,1293 563,1347 594,1409 L710,1409 Z" transform="translate(584.27,68.20) scale(0.01050,-0.01050)" fill="#000"/>
<text x="596.22" y="68.20" font-family="Liberation Sans, sans-serif" fill="#000" font-size="21.5">0</text>
<text x="608.18" y="57.20" font-family="Liberation Sans, sans-serif" fill="#000" font-size="12.8">2</text>
<path d="M710,0 L530,0 L530,1100 C487,1059 430,1017 360,976 C290,935 227,904 172,883 L172,1057 C272,1104 360,1161 435,1227 C510,1293 563,1347 594,1409 L710,1409 Z" transform="translate(584.27,171.70) scale(0.01050,-0.01050)" fill="#000"/>
<text x="596.22" y="171.70" font-family="Liberation Sans, sans-serif" fill="#000" font-size="21.5">0</text>
<path d="M710,0 L530,0 L530,1100 C487,1059 430,1017 360,976 C290,935 227,904 172,883 L172,1057 C272,1104 360,1161 435,1227 C510,1293 563,1347 594,1409 L710,1409 Z" transform="translate(608.18,160.70) scale(0.00625,-0.00625)" fill="#000"/>
<path d="M710,0 L530,0 L530,1100 C487,1059 430,1017 360,976 C290,935 227,904 172,883 L172,1057 C272,1104 360,1161 435,1227 C510,1293 563,1347 594,1409 L710,1409 Z" transform="translate(584.27,275.20) scale(0.01050,-0.01050)" fill="#000"/>
<text x="596.22" y="275.20" font-family="Liberation Sans, sans-serif" fill="#000" font-size="21.5">0</text>
<text x="608.18" y="264.20" font-family="Liberation Sans, sans-serif" fill="#000" font-size="12.8">0</text>
<path d="M710,0 L530,0 L530,1100 C487,1059 430,1017 360,976 C290,935 227,904 172,883 L172,1057 C272,1104 360,1161 435,1227 C510,1293 563,1347 594,1409 L710,1409 Z" transform="translate(580.00,378.70) scale(0.01050,-0.01050)" fill="#000"/>
<text x="591.96" y="378.70" font-family="Liberation Sans, sans-serif" fill="#000" font-size="21.5">0</text>
<text x="603.92" y="367.70" font-family="Liberation Sans, sans-serif" fill="#000" font-size="12.8">-</text>
<path d="M710,0 L530,0 L530,1100 C487,1059 430,1017 360,976 C290,935 227,904 172,883 L172,1057 C272,1104 360,1161 435,1227 C510,1293 563,1347 594,1409 L710,1409 Z" transform="translate(608.18,367.70) scale(0.00625,-0.00625)" fill="#000"/>
<path d="M710,0 L530,0 L530,1100 C487,1059 430,1017 360,976 C290,935 227,904 172,883 L172,1057 C272,1104 360,1161 435,1227 C510,1293 563,1347 594,1409 L710,1409 Z" transform="translate(1078.60,89.60) scale(0.01050,-0.01050)" fill="#000"/>
<text x="1090.56" y="89.60" font-family="Liberation Sans, sans-serif" fill="#000" font-size="21.5">0</text>
<path d="M710,0 L530,0 L530,1100 C487,1059 430,1017 360,976 C290,935 227,904 172,883 L172,1057 C272,1104 360,1161 435,1227 C510,1293 563,1347 594,1409 L710,1409 Z" transform="translate(1102.51,78.60) scale(0.00625,-0.00625)" fill="#000"/>
<path d="M710,0 L530,0 L530,1100 C487,1059 430,1017 360,976 C290,935 227,904 172,883 L172,1057 C272,1104 360,1161 435,1227 C510,1293 563,1347 594,1409 L710,1409 Z" transform="translate(1078.60,211.10) scale(0.01050,-0.01050)" fill="#000"/>
<text x="1090.56" y="211.10" font-family="Liberation Sans, sans-serif" fill="#000" font-size="21.5">0</text>
<text x="1102.51" y="200.10" font-family="Liberation Sans, sans-serif" fill="#000" font-size="12.8">0</text>
<path d="M710,0 L530,0 L530,1100 C487,1059 430,1017 360,976 C290,935 227,904 172,883 L172,1057 C272,1104 360,1161 435,1227 C510,1293 563,1347 594,1409 L710,1409 Z" transform="translate(1078.60,332.70) scale(0.01050,-0.01050)" fill="#000"/>
<text x="1090.56" y="332.70" font-family="Liberation Sans, sans-serif" fill="#000" font-size="21.5">0</text>
<text x="1102.51" y="321.70" font-family="Liberation Sans, sans-serif" fill="#000" font-size="12.8">-</text>
<path d="M710,0 L530,0 L530,1100 C487,1059 430,1017 360,976 C290,935 227,904 172,883 L172,1057 C272,1104 360,1161 435,1227 C510,1293 563,1347 594,1409 L710,1409 Z" transform="translate(1106.78,321.70) scale(0.00625,-0.00625)" fill="#000"/>
<path d="M710,0 L530,0 L530,1100 C487,1059 430,1017 360,976 C290,935 227,904 172,883 L172,1057 C272,1104 360,1161 435,1227 C510,1293 563,1347 594,1409 L710,1409 Z" transform="translate(649.65,453.60) scale(0.01050,-0.01050)" fill="#000"/>
<text x="661.61" y="453.60" font-family="Liberation Sans, sans-serif" fill="#000" font-size="21.5">0</text>
<text x="673.57" y="442.60" font-family="Liberation Sans, sans-serif" fill="#000" font-size="12.8">-</text>
<path d="M710,0 L530,0 L530,1100 C487,1059 430,1017 360,976 C290,935 227,904 172,883 L172,1057 C272,1104 360,1161 435,1227 C510,1293 563,1347 594,1409 L710,1409 Z" transform="translate(677.83,442.60) scale(0.00625,-0.00625)" fill="#000"/>
<path d="M710,0 L530,0 L530,1100 C487,1059 430,1017 360,976 C290,935 227,904 172,883 L172,1057 C272,1104 360,1161 435,1227 C510,1293 563,1347 594,1409 L710,1409 Z" transform="translate(737.88,453.60) scale(0.01050,-0.01050)" fill="#000"/>
<text x="749.84" y="453.60" font-family="Liberation Sans, sans-serif" fill="#000" font-size="21.5">0</text>
<text x="761.80" y="442.60" font-family="Liberation Sans, sans-serif" fill="#000" font-size="12.8">0</text>
<path d="M710,0 L530,0 L530,1100 C487,1059 430,1017 360,976 C290,935 227,904 172,883 L172,1057 C272,1104 360,1161 435,1227 C510,1293 563,1347 594,1409 L710,1409 Z" transform="translate(823.98,453.60) scale(0.01050,-0.01050)" fill="#000"/>
<text x="835.94" y="453.60" font-family="Liberation Sans, sans-serif" fill="#000" font-size="21.5">0</text>
<path d="M710,0 L530,0 L530,1100 C487,1059 430,1017 360,976 C290,935 227,904 172,883 L172,1057 C272,1104 360,1161 435,1227 C510,1293 563,1347 594,1409 L710,1409 Z" transform="translate(847.90,442.60) scale(0.00625,-0.00625)" fill="#000"/>
<path d="M710,0 L530,0 L530,1100 C487,1059 430,1017 360,976 C290,935 227,904 172,883 L172,1057 C272,1104 360,1161 435,1227 C510,1293 563,1347 594,1409 L710,1409 Z" transform="translate(909.98,453.60) scale(0.01050,-0.01050)" fill="#000"/>
<text x="921.94" y="453.60" font-family="Liberation Sans, sans-serif" fill="#000" font-size="21.5">0</text>
<text x="933.90" y="442.60" font-family="Liberation Sans, sans-serif" fill="#000" font-size="12.8">2</text>
<path d="M710,0 L530,0 L530,1100 C487,1059 430,1017 360,976 C290,935 227,904 172,883 L172,1057 C272,1104 360,1161 435,1227 C510,1293 563,1347 594,1409 L710,1409 Z" transform="translate(996.08,453.60) scale(0.01050,-0.01050)" fill="#000"/>
<text x="1008.04" y="453.60" font-family="Liberation Sans, sans-serif" fill="#000" font-size="21.5">0</text>
<text x="1020.00" y="442.60" font-family="Liberation Sans, sans-serif" fill="#000" font-size="12.8">3</text>
<text x="800" y="495.8" font-family="Liberation Sans, sans-serif" fill="#000" font-size="26.5"><tspan font-style="italic">L</tspan> (cd/m<tspan font-size="16.5" dy="-13">2</tspan><tspan dy="13" dx="1.5">)</tspan></text>
<g transform="translate(555.7,291) rotate(-90)">
<text x="-1.5" y="0" font-family="Liberation Sans, sans-serif" fill="#000" font-size="23.5" font-style="italic">η</text>
<text x="11.3" y="11.1" font-family="Liberation Sans, sans-serif" fill="#000" font-size="16.5">A</text>
<text x="30.6" y="0" font-family="Liberation Sans, sans-serif" fill="#000" font-size="26.5" textLength="73.6" lengthAdjust="spacingAndGlyphs">(cd/A)</text>
</g>
<g transform="translate(1147.2,298) rotate(-90)">
<text x="-1.5" y="0" font-family="Liberation Sans, sans-serif" fill="#000" font-size="23.5" font-style="italic">η</text>
<text x="11.6" y="10.7" font-family="Liberation Sans, sans-serif" fill="#000" font-size="17.5" font-style="italic" textLength="36.4" lengthAdjust="spacingAndGlyphs">EQE</text>
<text x="53.8" y="0" font-family="Liberation Sans, sans-serif" fill="#000" font-size="26.5" textLength="41" lengthAdjust="spacingAndGlyphs">(%)</text>
</g>
<path d="M832.7,334.8 H870.5 M832.7,360.5 H870.5" stroke="#2c2a7c" stroke-width="1.1"/>
<rect x="847.2" y="330.6" width="8.4" height="8.4" fill="#0404dc"/>
<circle cx="851.4" cy="360.5" r="4.4" fill="#0404dc"/>
<text x="876.7" y="340.1" font-family="Liberation Sans, sans-serif" fill="#000" font-weight="bold" font-size="20.3" textLength="91.6" lengthAdjust="spacingAndGlyphs">With PVK</text>
<text x="876.7" y="365.4" font-family="Liberation Sans, sans-serif" fill="#000" font-weight="bold" font-size="20.3" textLength="123.3" lengthAdjust="spacingAndGlyphs">Without PVK</text>
<ellipse cx="914.6" cy="116.6" rx="16.8" ry="38" fill="none" stroke="#000" stroke-width="2.1" stroke-dasharray="1.8,2.2"/>
<ellipse cx="882.4" cy="235.8" rx="21" ry="38.2" fill="none" stroke="#000" stroke-width="2.1" stroke-dasharray="1.8,2.2"/>
<path d="M908.2,78.3 Q912,77.8 916,77.9 H990" stroke="#000" stroke-width="2.2" fill="none"/>
<path d="M1006.8,77.9 L987.9,74.1 L987.9,81.7 Z" fill="#000"/>
<path d="M886.6,272.8 L676,274.1" stroke="#000" stroke-width="2.1"/>
<path d="M658.2,274.2 L676.7,270.4 L676.7,278.0 Z" fill="#000"/>
</svg>
</body></html>
